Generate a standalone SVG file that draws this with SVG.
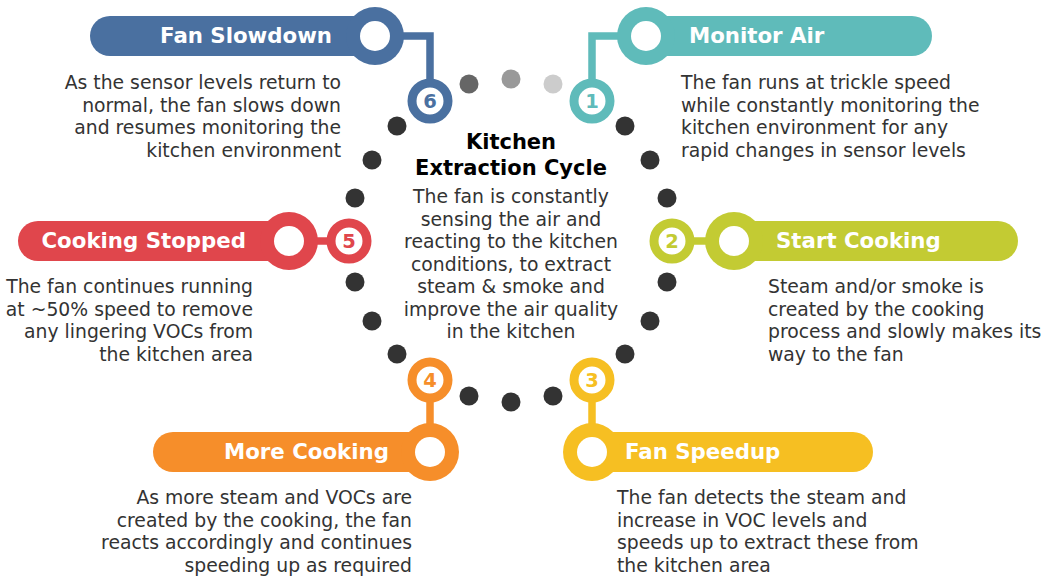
<svg xmlns="http://www.w3.org/2000/svg" width="1052" height="578" viewBox="0 0 1052 578">
<style>
text{font-family:"DejaVu Sans",Verdana,sans-serif}
.h{font-size:21.3px;font-weight:bold;fill:#fff}
.b{font-size:18.8px;fill:#333}
.t{font-size:21px;font-weight:bold;fill:#000}
.n{font-size:19.5px;font-weight:bold;text-anchor:middle}
.d{fill:#333}
.ring{fill:#fff;stroke-width:9}
.hole{fill:#fff}
.end{text-anchor:end}
.mid{text-anchor:middle}
</style>
<rect width="1052" height="578" fill="#fff"/>
<g id="ring-dots">
<circle cx="469" cy="84" r="9.5" fill="#666"/>
<circle cx="511" cy="79" r="9.5" fill="#999"/>
<circle cx="553" cy="84" r="9.5" fill="#ccc"/>
<circle class="d" cx="625" cy="126" r="9.5"/>
<circle class="d" cx="650" cy="160" r="9.5"/>
<circle class="d" cx="667" cy="198" r="9.5"/>
<circle class="d" cx="667" cy="282" r="9.5"/>
<circle class="d" cx="650" cy="321" r="9.5"/>
<circle class="d" cx="625" cy="354" r="9.5"/>
<circle class="d" cx="553" cy="396" r="9.5"/>
<circle class="d" cx="511" cy="402" r="9.5"/>
<circle class="d" cx="469" cy="396" r="9.5"/>
<circle class="d" cx="397" cy="354" r="9.5"/>
<circle class="d" cx="372" cy="321" r="9.5"/>
<circle class="d" cx="355" cy="282" r="9.5"/>
<circle class="d" cx="355" cy="198" r="9.5"/>
<circle class="d" cx="372" cy="160" r="9.5"/>
<circle class="d" cx="397" cy="126" r="9.5"/>
</g>
<g id="connectors" fill="none" stroke-width="7.5">
<path d="M375 36H430V101" stroke="#4A70A0"/>
<path d="M646 36H592V101" stroke="#5FBBBA"/>
<path d="M289 241H349" stroke="#E0464C"/>
<path d="M734 241H672" stroke="#C3CB33"/>
<path d="M430 380V452" stroke="#F68E2A"/>
<path d="M592 380V452" stroke="#F6BF22"/>
</g>
<g id="center">
<text class="t mid" x="511" y="149">Kitchen</text>
<text class="t mid" x="511" y="175">Extraction Cycle</text>
<text class="b mid" x="511" y="203">The fan is constantly</text>
<text class="b mid" x="511" y="225.5">sensing the air and</text>
<text class="b mid" x="511" y="248">reacting to the kitchen</text>
<text class="b mid" x="511" y="270.5">conditions, to extract</text>
<text class="b mid" x="511" y="293">steam &amp; smoke and</text>
<text class="b mid" x="511" y="315.5">improve the air quality</text>
<text class="b mid" x="511" y="338">in the kitchen</text>
</g>
<g id="step1">
<rect x="646" y="16" width="286" height="40" rx="20" fill="#5FBBBA"/>
<circle cx="646" cy="36" r="29" fill="#5FBBBA"/>
<circle class="hole" cx="646" cy="36" r="15"/>
<text class="h" x="689" y="43">Monitor Air</text>
<circle class="ring" cx="592" cy="101" r="18" stroke="#5FBBBA"/>
<text class="n" x="592" y="108" fill="#5FBBBA">1</text>
<text class="b" x="681" y="89">The fan runs at trickle speed</text>
<text class="b" x="681" y="111.5">while constantly monitoring the</text>
<text class="b" x="681" y="134">kitchen environment for any</text>
<text class="b" x="681" y="156.5">rapid changes in sensor levels</text>
</g>
<g id="step2">
<rect x="734" y="221" width="284" height="40" rx="20" fill="#C3CB33"/>
<circle cx="734" cy="241" r="29" fill="#C3CB33"/>
<circle class="hole" cx="734" cy="241" r="15"/>
<text class="h" x="776" y="248">Start Cooking</text>
<circle class="ring" cx="672" cy="241" r="18" stroke="#C3CB33"/>
<text class="n" x="672" y="248" fill="#C3CB33">2</text>
<text class="b" x="768" y="293">Steam and/or smoke is</text>
<text class="b" x="768" y="315.5">created by the cooking</text>
<text class="b" x="768" y="338">process and slowly makes its</text>
<text class="b" x="768" y="360.5">way to the fan</text>
</g>
<g id="step3">
<rect x="592" y="432" width="281" height="40" rx="20" fill="#F6BF22"/>
<circle cx="592" cy="452" r="29" fill="#F6BF22"/>
<circle class="hole" cx="592" cy="452" r="15"/>
<text class="h" x="625" y="459">Fan Speedup</text>
<circle class="ring" cx="592" cy="380" r="18" stroke="#F6BF22"/>
<text class="n" x="592" y="387" fill="#F6BF22">3</text>
<text class="b" x="617" y="504">The fan detects the steam and</text>
<text class="b" x="617" y="526.5">increase in VOC levels and</text>
<text class="b" x="617" y="549">speeds up to extract these from</text>
<text class="b" x="617" y="571.5">the kitchen area</text>
</g>
<g id="step4">
<rect x="153" y="432" width="277" height="40" rx="20" fill="#F68E2A"/>
<circle cx="430" cy="452" r="29" fill="#F68E2A"/>
<circle class="hole" cx="430" cy="452" r="15"/>
<text class="h end" x="389" y="459">More Cooking</text>
<circle class="ring" cx="430" cy="380" r="18" stroke="#F68E2A"/>
<text class="n" x="430" y="387" fill="#F68E2A">4</text>
<text class="b end" x="412" y="504">As more steam and VOCs are</text>
<text class="b end" x="412" y="526.5">created by the cooking, the fan</text>
<text class="b end" x="412" y="549">reacts accordingly and continues</text>
<text class="b end" x="412" y="571.5">speeding up as required</text>
</g>
<g id="step5">
<rect x="18" y="221" width="271" height="40" rx="20" fill="#E0464C"/>
<circle cx="289" cy="241" r="29" fill="#E0464C"/>
<circle class="hole" cx="289" cy="241" r="15"/>
<text class="h end" x="246" y="248">Cooking Stopped</text>
<circle class="ring" cx="349" cy="241" r="18" stroke="#E0464C"/>
<text class="n" x="349" y="248" fill="#E0464C">5</text>
<text class="b end" x="253" y="293">The fan continues running</text>
<text class="b end" x="253" y="315.5">at ~50% speed to remove</text>
<text class="b end" x="253" y="338">any lingering VOCs from</text>
<text class="b end" x="253" y="360.5">the kitchen area</text>
</g>
<g id="step6">
<rect x="90" y="16" width="285" height="40" rx="20" fill="#4A70A0"/>
<circle cx="375" cy="36" r="29" fill="#4A70A0"/>
<circle class="hole" cx="375" cy="36" r="15"/>
<text class="h end" x="332" y="43">Fan Slowdown</text>
<circle class="ring" cx="430" cy="101" r="18" stroke="#4A70A0"/>
<text class="n" x="430" y="108" fill="#4A70A0">6</text>
<text class="b end" x="341" y="89">As the sensor levels return to</text>
<text class="b end" x="341" y="111.5">normal, the fan slows down</text>
<text class="b end" x="341" y="134">and resumes monitoring the</text>
<text class="b end" x="341" y="156.5">kitchen environment</text>
</g>
</svg>
